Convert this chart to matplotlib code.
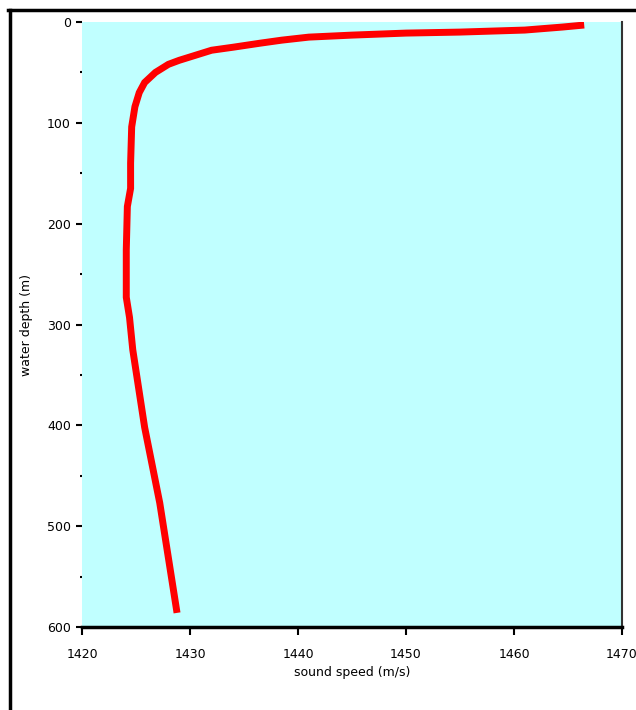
import matplotlib
matplotlib.use("Agg")
import matplotlib.pyplot as plt
from matplotlib.lines import Line2D
from matplotlib.ticker import MultipleLocator

depth_m = [3, 5, 8, 10, 11, 13, 15, 18, 21, 25, 28, 33, 38, 42, 50, 60, 70, 84,
           104, 140, 165, 183, 226, 273, 293, 325, 402, 477, 586]
speed_ms = [1466.5, 1464.5, 1461.0, 1455.0, 1450.0, 1445.0, 1441.0, 1438.5,
            1436.5, 1434.0, 1432.0, 1430.5, 1429.0, 1428.0, 1426.8, 1425.8,
            1425.3, 1424.9, 1424.6, 1424.5, 1424.5, 1424.2, 1424.1, 1424.1,
            1424.4, 1424.7, 1425.8, 1427.2, 1428.8]
x_ticks = [1420, 1430, 1440, 1450, 1460, 1470]
y_ticks = [0, 100, 200, 300, 400, 500, 600]

W, H = 636, 710
fig = plt.figure(figsize=(W / 100, H / 100), dpi=100)
fig.patch.set_facecolor("white")

ax = fig.add_axes([82 / W, 1 - 627 / H, (622 - 82) / W, (627 - 22) / H])
ax.set_facecolor("#c0ffff")
ax.plot(speed_ms, depth_m, color="#ff0000", lw=5, solid_capstyle="butt",
        solid_joinstyle="miter")
ax.set_xlim(1420, 1470)
ax.set_ylim(600, 0)
ax.set_xticks(x_ticks)
ax.set_yticks(y_ticks)
ax.yaxis.set_minor_locator(MultipleLocator(50))

for s in ("top", "left"):
    ax.spines[s].set_visible(False)
ax.spines["right"].set_color("#333333")
ax.spines["right"].set_linewidth(1.5)
ax.spines["bottom"].set_color("black")
ax.spines["bottom"].set_linewidth(2.5)

ax.tick_params(axis="y", which="major", length=4, width=1.5, pad=4,
               labelsize=9, colors="black")
ax.tick_params(axis="y", which="minor", length=1.5, width=1.5)
ax.tick_params(axis="x", which="major", length=6, width=1.5, pad=9,
               labelsize=9, colors="black")
ax.set_xlabel("sound speed (m/s)", fontsize=9, labelpad=4)
ax.set_ylabel("water depth (m)", fontsize=9, labelpad=10)

# image frame lines (top and left)
fig.add_artist(Line2D([8 / W, 1], [1 - 10 / H, 1 - 10 / H], color="black",
                      lw=2.5, transform=fig.transFigure))
fig.add_artist(Line2D([9.5 / W, 9.5 / W], [0, 1 - 10 / H], color="black",
                      lw=2.5, transform=fig.transFigure))

fig.savefig("out.png", dpi=100)
